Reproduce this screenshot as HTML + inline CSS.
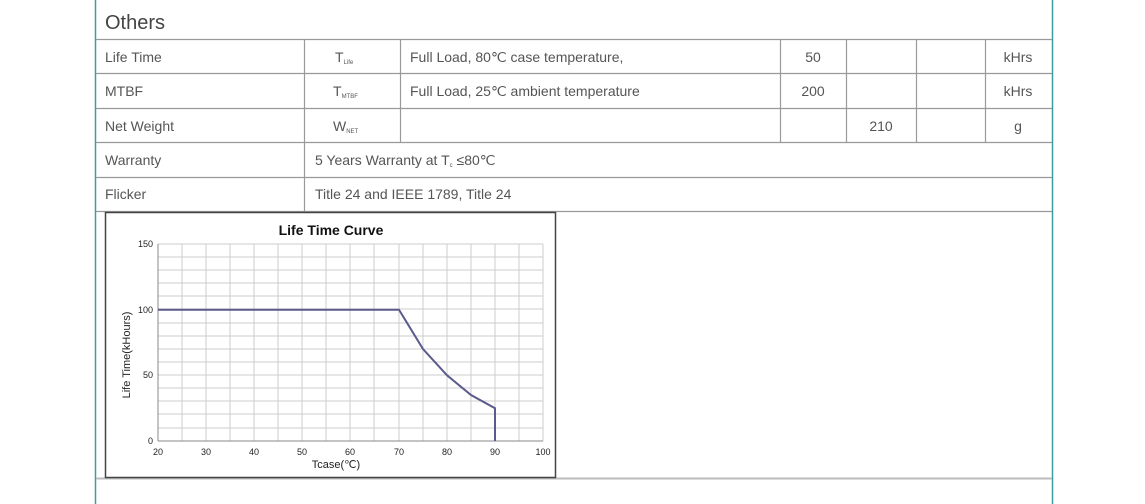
<!DOCTYPE html>
<html><head><meta charset="utf-8"><style>
body{margin:0;background:#fff;width:1145px;height:504px;overflow:hidden}
svg{display:block}
</style></head><body>
<svg width="1145" height="504" xmlns="http://www.w3.org/2000/svg" font-family="Liberation Sans, sans-serif">
<line x1="95.5" y1="0" x2="95.5" y2="504" stroke="#3a9e9a" stroke-width="1.5"/>
<line x1="1052.5" y1="0" x2="1052.5" y2="504" stroke="#3a9e9a" stroke-width="1.5"/>
<g stroke="#999" stroke-width="1.2">
<line x1="96" y1="39.5" x2="1052" y2="39.5"/>
<line x1="96" y1="73.5" x2="1052" y2="73.5"/>
<line x1="96" y1="108.5" x2="1052" y2="108.5"/>
<line x1="96" y1="142.5" x2="1052" y2="142.5"/>
<line x1="96" y1="177.5" x2="1052" y2="177.5"/>
<line x1="96" y1="211.5" x2="1052" y2="211.5"/>
<line x1="96" y1="478.5" x2="1052" y2="478.5" stroke="#bbb" stroke-width="2"/>
<line x1="304.5" y1="39" x2="304.5" y2="211"/>
<line x1="400.5" y1="39" x2="400.5" y2="142"/>
<line x1="780.5" y1="39" x2="780.5" y2="142"/>
<line x1="846.5" y1="39" x2="846.5" y2="142"/>
<line x1="916.5" y1="39" x2="916.5" y2="142"/>
<line x1="985.5" y1="39" x2="985.5" y2="142"/>
</g>
<g fill="#555" font-size="14">
<text x="105" y="29" font-size="20" fill="#444">Others</text>
<text x="105" y="62">Life Time</text>
<text x="105" y="96">MTBF</text>
<text x="105" y="131">Net Weight</text>
<text x="105" y="165">Warranty</text>
<text x="105" y="199">Flicker</text>
<text x="335" y="62">T<tspan font-size="6" dy="2">Life</tspan></text>
<text x="333" y="96">T<tspan font-size="6" dy="2">MTBF</tspan></text>
<text x="333" y="131">W<tspan font-size="6" dy="2">NET</tspan></text>
<text x="410" y="62">Full Load, 80℃  case temperature,</text>
<text x="410" y="96">Full Load, 25℃  ambient temperature</text>
<text x="315" y="165">5 Years Warranty at T<tspan font-size="6" dy="2">c</tspan><tspan dy="-2"> ≤80℃</tspan></text>
<text x="315" y="199">Title 24 and IEEE 1789, Title 24</text>
<text x="813" y="62" text-anchor="middle">50</text>
<text x="813" y="96" text-anchor="middle">200</text>
<text x="881" y="131" text-anchor="middle">210</text>
<text x="1018" y="62" text-anchor="middle">kHrs</text>
<text x="1018" y="96" text-anchor="middle">kHrs</text>
<text x="1018" y="131" text-anchor="middle">g</text>
</g>
<rect x="105.5" y="212.5" width="450" height="265" fill="#fff" stroke="#444" stroke-width="1.5"/>
<text x="331" y="235" font-size="14" font-weight="bold" text-anchor="middle" fill="#111">Life Time Curve</text>
<g stroke="#ccc" stroke-width="1">
<g id="v">
<line x1="182" y1="244" x2="182" y2="441"/><line x1="206" y1="244" x2="206" y2="441"/><line x1="230" y1="244" x2="230" y2="441"/><line x1="254" y1="244" x2="254" y2="441"/><line x1="278" y1="244" x2="278" y2="441"/><line x1="302" y1="244" x2="302" y2="441"/><line x1="326" y1="244" x2="326" y2="441"/><line x1="350" y1="244" x2="350" y2="441"/><line x1="374" y1="244" x2="374" y2="441"/><line x1="399" y1="244" x2="399" y2="441"/><line x1="423" y1="244" x2="423" y2="441"/><line x1="447" y1="244" x2="447" y2="441"/><line x1="471" y1="244" x2="471" y2="441"/><line x1="495" y1="244" x2="495" y2="441"/><line x1="519" y1="244" x2="519" y2="441"/><line x1="543" y1="244" x2="543" y2="441"/>
</g>
<line x1="158" y1="244" x2="543" y2="244"/><line x1="158" y1="257" x2="543" y2="257"/><line x1="158" y1="270" x2="543" y2="270"/><line x1="158" y1="283" x2="543" y2="283"/><line x1="158" y1="296" x2="543" y2="296"/><line x1="158" y1="309" x2="543" y2="309"/><line x1="158" y1="323" x2="543" y2="323"/><line x1="158" y1="336" x2="543" y2="336"/><line x1="158" y1="349" x2="543" y2="349"/><line x1="158" y1="362" x2="543" y2="362"/><line x1="158" y1="375" x2="543" y2="375"/><line x1="158" y1="388" x2="543" y2="388"/><line x1="158" y1="401" x2="543" y2="401"/><line x1="158" y1="414" x2="543" y2="414"/><line x1="158" y1="428" x2="543" y2="428"/>
</g>
<g stroke="#888" stroke-width="1"><line x1="158" y1="244" x2="158" y2="441"/><line x1="158" y1="441" x2="543" y2="441"/></g>
<polyline points="158,309.7 399,309.7 423,349 447,375.3 471,395 495,408.2 495,441" fill="none" stroke="#5a5a8c" stroke-width="2"/>
<g font-size="9" fill="#222" text-anchor="middle">
<text x="158" y="455">20</text><text x="206" y="455">30</text><text x="254" y="455">40</text><text x="302" y="455">50</text><text x="350" y="455">60</text><text x="399" y="455">70</text><text x="447" y="455">80</text><text x="495" y="455">90</text><text x="543" y="455">100</text>
<g text-anchor="end"><text x="153" y="247">150</text><text x="153" y="313">100</text><text x="153" y="378">50</text><text x="153" y="444">0</text></g>
</g>
<text x="336" y="468" font-size="11" text-anchor="middle" fill="#222">Tcase(℃)</text>
<text transform="translate(130,355) rotate(-90)" font-size="11" text-anchor="middle" fill="#222">Life Time(kHours)</text>
</svg>
</body></html>
